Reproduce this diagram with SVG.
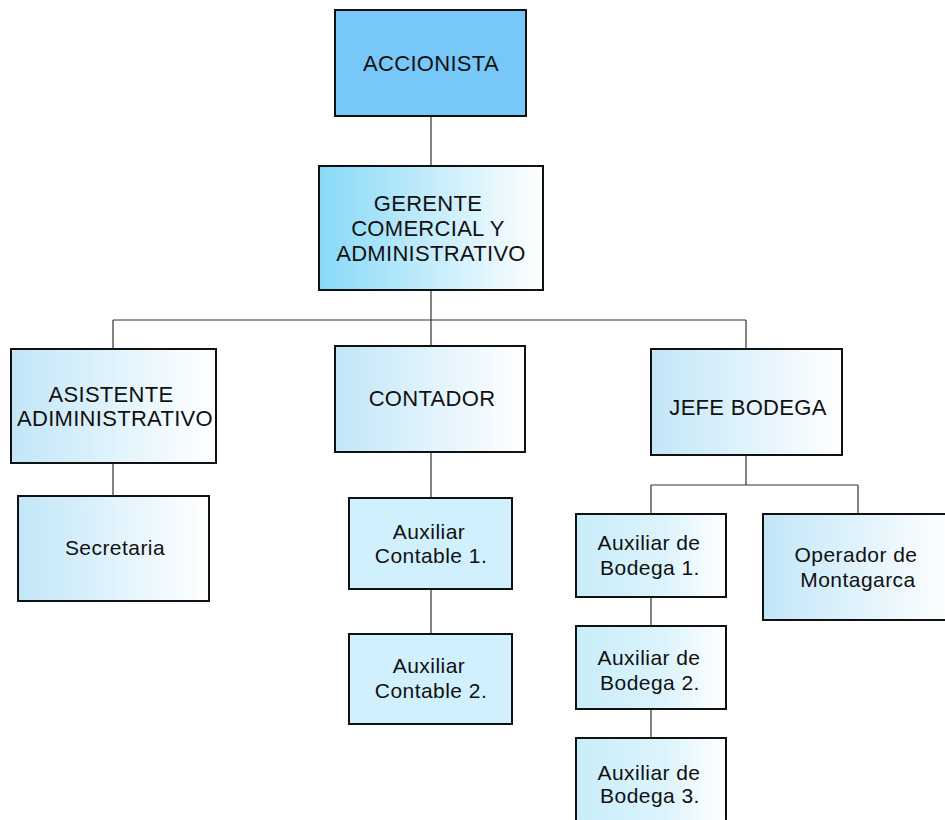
<svg xmlns="http://www.w3.org/2000/svg" width="945" height="820" viewBox="0 0 945 820">
<defs>
<linearGradient id="gStrong" x1="0" y1="0" x2="1" y2="0">
<stop offset="0" stop-color="#86D9F8"/>
<stop offset="0.5" stop-color="#C4ECFB"/>
<stop offset="1" stop-color="#FFFFFF"/>
</linearGradient>
<linearGradient id="gLight" x1="0" y1="0" x2="1" y2="0">
<stop offset="0" stop-color="#C2E6F8"/>
<stop offset="0.5" stop-color="#E0F3FC"/>
<stop offset="1" stop-color="#FFFFFF"/>
</linearGradient>
<linearGradient id="gAux" x1="0" y1="0" x2="1" y2="0">
<stop offset="0" stop-color="#C8EDFA"/>
<stop offset="0.6" stop-color="#DDF4FC"/>
<stop offset="1" stop-color="#FFFFFF"/>
</linearGradient>
</defs>
<style>
rect.box{stroke:#111;stroke-width:2}
text{font-family:"Liberation Sans",Arial,sans-serif;fill:#111;text-anchor:middle}
.cap{font-size:22px;letter-spacing:0.3px}
.low{font-size:21px;letter-spacing:0.45px}
#connectors line{stroke:#333;stroke-width:1.2}
</style>
<rect width="945" height="820" fill="#FFFFFF"/>
<g id="connectors">
<line x1="431" y1="116" x2="431" y2="166"/>
<line x1="431" y1="290" x2="431" y2="320"/>
<line x1="113" y1="320" x2="746" y2="320"/>
<line x1="113" y1="320" x2="113" y2="349"/>
<line x1="431" y1="320" x2="431" y2="346"/>
<line x1="746" y1="320" x2="746" y2="349"/>
<line x1="113" y1="463" x2="113" y2="496"/>
<line x1="431" y1="452" x2="431" y2="498"/>
<line x1="431" y1="589" x2="431" y2="634"/>
<line x1="746" y1="455" x2="746" y2="485"/>
<line x1="651" y1="485" x2="858" y2="485"/>
<line x1="651" y1="485" x2="651" y2="514"/>
<line x1="858" y1="485" x2="858" y2="514"/>
<line x1="651" y1="597" x2="651" y2="626"/>
<line x1="651" y1="709" x2="651" y2="738"/>
</g>
<g id="accionista">
<rect class="box" x="335" y="10" width="191" height="106" fill="#77C8F8"/>
<text class="cap" x="431" y="71">ACCIONISTA</text>
</g>
<g id="gerente">
<rect class="box" x="319" y="166" width="224" height="124" fill="url(#gStrong)"/>
<text class="cap" x="428" y="211">GERENTE</text>
<text class="cap" x="428" y="236">COMERCIAL Y</text>
<text class="cap" x="431" y="261">ADMINISTRATIVO</text>
</g>
<g id="asistente">
<rect class="box" x="11" y="349" width="205" height="114" fill="url(#gLight)"/>
<text class="cap" x="111" y="402">ASISTENTE</text>
<text class="cap" x="115" y="426">ADIMINISTRATIVO</text>
</g>
<g id="secretaria">
<rect class="box" x="18" y="496" width="191" height="105" fill="url(#gLight)"/>
<text class="low" x="115" y="555">Secretaria</text>
</g>
<g id="contador">
<rect class="box" x="335" y="346" width="190" height="106" fill="url(#gLight)"/>
<text class="cap" x="432" y="406">CONTADOR</text>
</g>
<g id="aux-contable-1">
<rect class="box" x="349" y="498" width="163" height="91" fill="#CFF0FC"/>
<text class="low" x="429" y="539">Auxiliar</text>
<text class="low" x="431" y="563">Contable 1.</text>
</g>
<g id="aux-contable-2">
<rect class="box" x="349" y="634" width="163" height="90" fill="#CFF0FC"/>
<text class="low" x="429" y="673">Auxiliar</text>
<text class="low" x="431" y="698">Contable 2.</text>
</g>
<g id="jefe-bodega">
<rect class="box" x="651" y="349" width="191" height="106" fill="url(#gLight)"/>
<text class="cap" x="748" y="415">JEFE BODEGA</text>
</g>
<g id="aux-bodega-1">
<rect class="box" x="576" y="514" width="150" height="83" fill="url(#gAux)"/>
<text class="low" x="649" y="550">Auxiliar de</text>
<text class="low" x="650" y="575">Bodega 1.</text>
</g>
<g id="aux-bodega-2">
<rect class="box" x="576" y="626" width="150" height="83" fill="url(#gAux)"/>
<text class="low" x="649" y="665">Auxiliar de</text>
<text class="low" x="650" y="690">Bodega 2.</text>
</g>
<g id="aux-bodega-3">
<rect class="box" x="576" y="738" width="150" height="90" fill="url(#gAux)"/>
<text class="low" x="649" y="780">Auxiliar de</text>
<text class="low" x="650" y="803">Bodega 3.</text>
</g>
<g id="operador">
<rect class="box" x="763" y="514" width="190" height="106" fill="url(#gLight)"/>
<text class="low" x="856" y="562">Operador de</text>
<text class="low" x="858" y="587">Montagarca</text>
</g>
</svg>
